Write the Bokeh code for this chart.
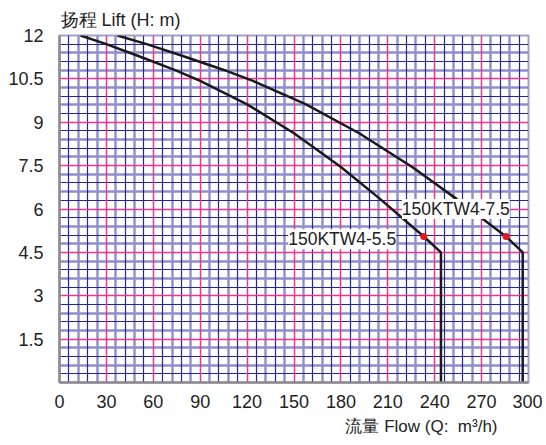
from bokeh.plotting import figure
from bokeh.models import Range1d, FixedTicker, Grid, Label, Title
from bokeh.embed import file_html
from bokeh.resources import INLINE

# ---- data ----
x_ticks = [0, 30, 60, 90, 120, 150, 180, 210, 240, 270, 300]
y_ticks = [1.5, 3, 4.5, 6, 7.5, 9, 10.5, 12]

q_55 = [13.4, 30, 50, 74, 90, 120, 150, 180, 205, 233, 244, 244]
h_55 = [12.0, 11.7, 11.3, 10.8, 10.43, 9.62, 8.62, 7.45, 6.35, 5.05, 4.5, 0.0]
q_75 = [37, 55.8, 78.4, 105.6, 123.7, 157.7, 191.7, 225.6, 253.9, 285.6, 296.3, 296.3]
h_75 = [12.0, 11.7, 11.3, 10.8, 10.43, 9.62, 8.62, 7.45, 6.35, 5.05, 4.5, 0.0]

dot_q = [233, 285.6]
dot_h = [5.05, 5.05]

name_55 = "150KTW4-5.5"
name_75 = "150KTW4-7.5"
y_title = "扬程 Lift (H: m)"
x_title = "流量 Flow (Q:\u00a0 m³/h)"

LATIN = "Liberation Sans"
TXT = "#222222"

p = figure(width=542, height=442, output_backend="svg", toolbar_location=None,
           x_range=Range1d(0, 300), y_range=Range1d(0, 12),
           min_border_left=59, min_border_right=14, min_border_top=35, min_border_bottom=60)
p.background_fill_color = "white"
p.border_fill_color = "white"
p.outline_line_color = "#a0a0cc"
p.outline_line_width = 2

p.xgrid.visible = False
p.ygrid.visible = False

# grid: minor every 6 (x) / 0.3 (y), alternating dark / light blue, pink majors
xs_light, xs_dark, ys_light, ys_dark = [], [], [], []
for j in range(1, 50):
    if j % 5 == 0:
        continue
    (xs_light if j % 2 == 0 else xs_dark).append(j * 6)
for i in range(1, 40):
    if i % 5 == 0:
        continue
    (ys_light if i % 2 == 0 else ys_dark).append(round(i * 0.3, 2))

LIGHT = "#8e8ecb"
DARK = "#25259a"
PINK = "#f0348e"

p.add_layout(Grid(dimension=0, ticker=FixedTicker(ticks=xs_light), grid_line_color=LIGHT, grid_line_width=2.4))
p.add_layout(Grid(dimension=1, ticker=FixedTicker(ticks=ys_light), grid_line_color=LIGHT, grid_line_width=2.4))
p.add_layout(Grid(dimension=0, ticker=FixedTicker(ticks=xs_dark), grid_line_color=DARK, grid_line_width=1.2))
p.add_layout(Grid(dimension=1, ticker=FixedTicker(ticks=ys_dark), grid_line_color=DARK, grid_line_width=1.2))
p.add_layout(Grid(dimension=0, ticker=FixedTicker(ticks=x_ticks[1:-1]), grid_line_color=PINK, grid_line_width=1.5))
p.add_layout(Grid(dimension=1, ticker=FixedTicker(ticks=y_ticks[:-1]), grid_line_color=PINK, grid_line_width=1.5))

# axes
p.xaxis.ticker = FixedTicker(ticks=x_ticks)
p.yaxis.ticker = FixedTicker(ticks=y_ticks)
p.xaxis.major_label_overrides = {t: str(t) for t in x_ticks}
p.yaxis.major_label_overrides = {t: (str(t) if t != int(t) else str(int(t))) for t in y_ticks}
for ax in (p.xaxis, p.yaxis):
    ax.major_tick_line_color = None
    ax.minor_tick_line_color = None
    ax.axis_line_color = "#8c8c8c"
    ax.axis_line_width = 2.5
    ax.major_label_text_font = LATIN
    ax.major_label_text_font_size = "18px"
    ax.major_label_text_color = TXT
p.xaxis.major_label_standoff = 6
p.yaxis.major_label_standoff = 10

# axis titles
p.add_layout(Title(text=y_title, align="left", offset=1, text_font=LATIN,
                   text_font_size="18px", text_font_style="normal", text_color=TXT,
                   standoff=12), "above")
p.add_layout(Title(text=x_title, align="right", offset=31, text_font=LATIN,
                   text_font_size="17px", text_font_style="normal", text_color=TXT,
                   standoff=8), "below")

# curves
p.line(q_55, h_55, line_color="#1a1a1a", line_width=2.5)
p.line(q_75, h_75, line_color="#1a1a1a", line_width=2.5)
p.scatter(dot_q, dot_h, size=7, color="#e8141e", line_color=None)

# curve labels
for name, lx, ly in [(name_75, 219, 6.0), (name_55, 146.3, 4.95)]:
    p.add_layout(Label(x=lx, y=ly, text=name, text_font=LATIN, text_font_size="17.5px",
                       text_color=TXT, text_baseline="middle", text_align="left",
                       background_fill_color="white", background_fill_alpha=1.0))

open("out.html", "w").write(file_html(p, INLINE))
